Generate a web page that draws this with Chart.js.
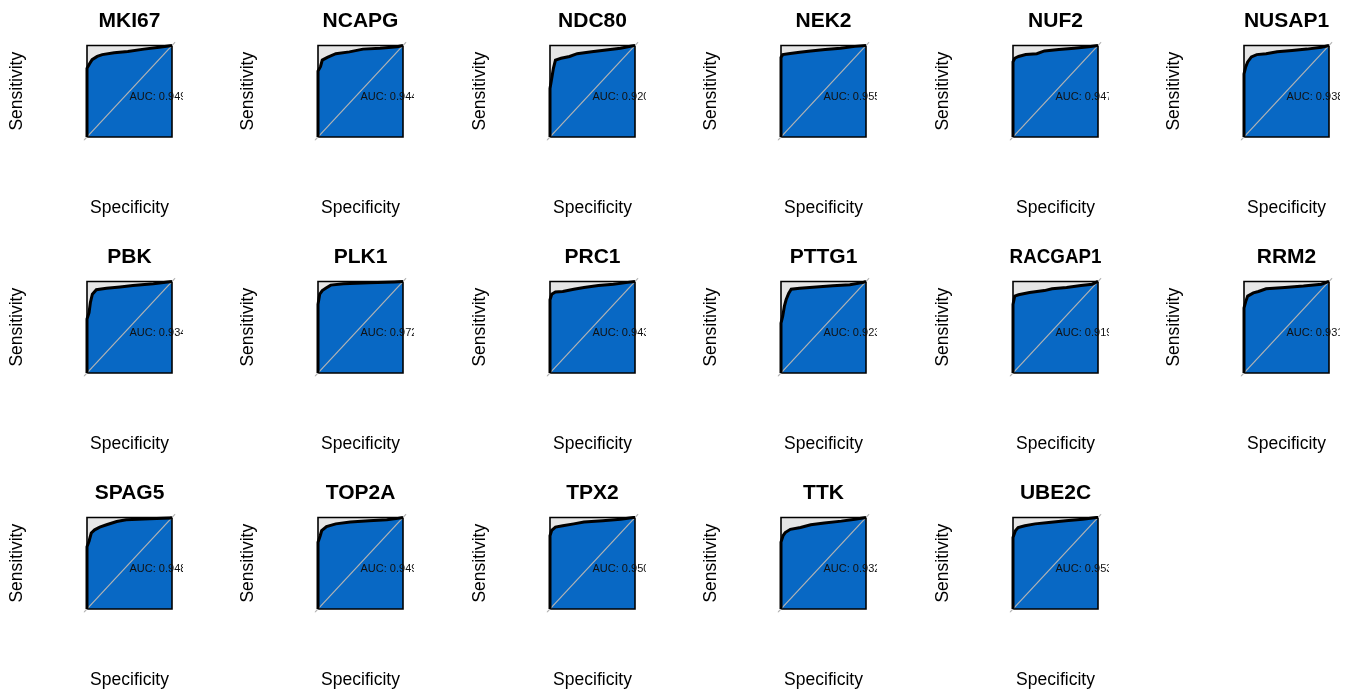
<!DOCTYPE html>
<html>
<head>
<meta charset="utf-8">
<script src="https://cdn.jsdelivr.net/npm/chart.js@4.4.1/dist/chart.umd.min.js"></script>
<style>
  html, body { margin: 0; padding: 0; background: #fff; overflow: hidden; }
  #grid { position: relative; width: 1353px; height: 696px; }
  .panel { position: absolute; width: 200px; height: 236px; }
</style>
</head>
<body>
<div id="grid"></div>
<script>
// genes, in panel order (6 per row)
var genes = ['MKI67', 'NCAPG', 'NDC80', 'NEK2', 'NUF2', 'NUSAP1',
             'PBK', 'PLK1', 'PRC1', 'PTTG1', 'RACGAP1', 'RRM2',
             'SPAG5', 'TOP2A', 'TPX2', 'TTK', 'UBE2C'];
var aucValues = [0.949, 0.944, 0.920, 0.955, 0.947, 0.938,
                 0.934, 0.972, 0.943, 0.923, 0.919, 0.931,
                 0.948, 0.949, 0.950, 0.932, 0.953];

// ROC curves: specificity / sensitivity pairs
var MKI67_spec   = [1, 1, 0.97, 0.94, 0.88, 0.82, 0.68, 0.52, 0.33, 0.15, 0];
var MKI67_sens   = [0, 0.75, 0.80, 0.845, 0.88, 0.90, 0.92, 0.935, 0.96, 0.98, 1];
var NCAPG_spec   = [1, 1, 0.97, 0.95, 0.89, 0.79, 0.63, 0.47, 0.27, 0.07, 0];
var NCAPG_sens   = [0, 0.72, 0.77, 0.84, 0.87, 0.91, 0.93, 0.96, 0.97, 0.985, 1];
var NDC80_spec   = [1, 1, 0.98, 0.96, 0.936, 0.87, 0.77, 0.68, 0.51, 0.34, 0.17, 0.04, 0];
var NDC80_sens   = [0, 0.53, 0.64, 0.75, 0.84, 0.86, 0.88, 0.91, 0.93, 0.95, 0.97, 0.995, 1];
var NEK2_spec    = [1, 1, 0.98, 0.913, 0.78, 0.65, 0.48, 0.30, 0.13, 0];
var NEK2_sens    = [0, 0.87, 0.90, 0.91, 0.925, 0.94, 0.955, 0.97, 0.99, 1];
var NUF2_spec    = [1, 1, 0.98, 0.935, 0.85, 0.72, 0.63, 0.46, 0.28, 0.11, 0];
var NUF2_sens    = [0, 0.82, 0.86, 0.88, 0.90, 0.91, 0.94, 0.955, 0.97, 0.985, 1];
var NUSAP1_spec  = [1, 1, 0.98, 0.957, 0.913, 0.85, 0.74, 0.61, 0.435, 0.26, 0.09, 0];
var NUSAP1_sens  = [0, 0.69, 0.765, 0.82, 0.875, 0.90, 0.91, 0.93, 0.945, 0.96, 0.98, 1];
var PBK_spec     = [1, 1, 0.976, 0.96, 0.937, 0.89, 0.77, 0.61, 0.46, 0.22, 0];
var PBK_sens     = [0, 0.59, 0.66, 0.77, 0.86, 0.91, 0.925, 0.94, 0.955, 0.975, 1];
var PLK1_spec    = [1, 1, 0.98, 0.95, 0.90, 0.85, 0.70, 0.40, 0.10, 0];
var PLK1_sens    = [0, 0.75, 0.86, 0.90, 0.93, 0.96, 0.975, 0.985, 0.995, 1];
var PRC1_spec    = [1, 1, 0.98, 0.936, 0.85, 0.72, 0.60, 0.43, 0.255, 0.085, 0];
var PRC1_sens    = [0, 0.80, 0.86, 0.885, 0.89, 0.915, 0.935, 0.955, 0.97, 0.99, 1];
var PTTG1_spec   = [1, 1, 0.98, 0.96, 0.94, 0.91, 0.88, 0.78, 0.585, 0.39, 0.19, 0.03, 0];
var PTTG1_sens   = [0, 0.545, 0.62, 0.73, 0.80, 0.87, 0.915, 0.927, 0.94, 0.953, 0.964, 0.99, 1];
var RACGAP1_spec = [1, 1, 0.98, 0.935, 0.805, 0.63, 0.54, 0.37, 0.20, 0.07, 0];
var RACGAP1_sens = [0, 0.75, 0.84, 0.855, 0.88, 0.90, 0.92, 0.935, 0.955, 0.97, 1];
var RRM2_spec    = [1, 1, 0.98, 0.957, 0.89, 0.83, 0.74, 0.52, 0.30, 0.09, 0];
var RRM2_sens    = [0, 0.71, 0.78, 0.84, 0.875, 0.89, 0.92, 0.935, 0.95, 0.97, 1];
var SPAG5_spec   = [1, 1, 0.976, 0.95, 0.91, 0.85, 0.77, 0.65, 0.54, 0.26, 0.02, 0];
var SPAG5_sens   = [0, 0.68, 0.74, 0.83, 0.865, 0.895, 0.92, 0.956, 0.975, 0.985, 0.993, 1];
var TOP2A_spec   = [1, 1, 0.974, 0.957, 0.90, 0.79, 0.62, 0.40, 0.19, 0.06, 0];
var TOP2A_sens   = [0, 0.73, 0.80, 0.855, 0.90, 0.93, 0.95, 0.965, 0.975, 0.99, 1];
var TPX2_spec    = [1, 1, 0.98, 0.936, 0.85, 0.72, 0.60, 0.38, 0.17, 0.02, 0];
var TPX2_sens    = [0, 0.80, 0.86, 0.895, 0.91, 0.93, 0.95, 0.965, 0.98, 1, 1];
var TTK_spec     = [1, 1, 0.976, 0.95, 0.89, 0.77, 0.65, 0.49, 0.29, 0.13, 0];
var TTK_sens     = [0, 0.73, 0.80, 0.835, 0.87, 0.89, 0.92, 0.94, 0.96, 0.98, 1];
var UBE2C_spec   = [1, 1, 0.972, 0.94, 0.86, 0.74, 0.58, 0.38, 0.18, 0.02, 0];
var UBE2C_sens   = [0, 0.78, 0.855, 0.89, 0.91, 0.93, 0.945, 0.965, 0.98, 1, 1];

var curves = [
    [MKI67_spec, MKI67_sens], [NCAPG_spec, NCAPG_sens], [NDC80_spec, NDC80_sens],
    [NEK2_spec, NEK2_sens], [NUF2_spec, NUF2_sens], [NUSAP1_spec, NUSAP1_sens],
    [PBK_spec, PBK_sens], [PLK1_spec, PLK1_sens], [PRC1_spec, PRC1_sens],
    [PTTG1_spec, PTTG1_sens], [RACGAP1_spec, RACGAP1_sens], [RRM2_spec, RRM2_sens],
    [SPAG5_spec, SPAG5_sens], [TOP2A_spec, TOP2A_sens], [TPX2_spec, TPX2_sens],
    [TTK_spec, TTK_sens], [UBE2C_spec, UBE2C_sens]
];

var FONT = '"Liberation Sans", Arial, Helvetica, sans-serif';
var COL_STEP = 231.4, ROW_STEP = 236;

Chart.defaults.font.family = FONT;
Chart.defaults.color = '#000';

// "AUC: x.xxx" text, clipped a little past the right edge of the box
var aucLabel = {
    id: 'aucLabel',
    afterDatasetsDraw: function (chart, args, opts) {
        var ctx = chart.ctx, x = chart.scales.x, y = chart.scales.y, area = chart.chartArea;
        var px = x.getPixelForValue(0.5), py = y.getPixelForValue(0.5);
        ctx.save();
        ctx.beginPath();
        ctx.rect(area.left, area.top, x.getPixelForValue(0) + 11 - area.left, area.bottom - area.top);
        ctx.clip();
        ctx.font = '11px ' + FONT;
        ctx.fillStyle = '#111';
        ctx.textBaseline = 'middle';
        ctx.fillText(opts.text, px, py + 5.5);
        ctx.restore();
    }
};

function pts(xs, ys) {
    var out = [];
    for (var i = 0; i < xs.length; i++) out.push({ x: xs[i], y: ys[i] });
    return out;
}

function makePanel(i) {
    var col = i % 6, row = Math.floor(i / 6);
    var div = document.createElement('div');
    div.className = 'panel';
    div.style.left = Math.round(col * COL_STEP) + 'px';
    div.style.top = (row * ROW_STEP) + 'px';
    var canvas = document.createElement('canvas');
    canvas.width = 200;
    canvas.height = 236;
    div.appendChild(canvas);
    document.getElementById('grid').appendChild(div);

    var roc = pts(curves[i][0], curves[i][1]);

    new Chart(canvas, {
        type: 'scatter',
        data: {
            datasets: [
                {   // grey max-AUC square
                    data: [{ x: 1, y: 1 }, { x: 0, y: 1 }],
                    showLine: true, fill: 'origin', backgroundColor: '#e6e6e6',
                    borderWidth: 0, pointRadius: 0, order: 5
                },
                {   // blue AUC polygon
                    data: roc,
                    showLine: true, fill: 'origin', backgroundColor: '#0868c4',
                    borderWidth: 0, pointRadius: 0, order: 4
                },
                {   // box outline
                    data: [{ x: 1, y: 0 }, { x: 1, y: 1 }, { x: 0, y: 1 }, { x: 0, y: 0 }, { x: 1, y: 0 }],
                    showLine: true, fill: false, borderColor: '#000', borderWidth: 1.6,
                    pointRadius: 0, order: 3
                },
                {   // chance diagonal
                    data: [{ x: 1.04, y: -0.04 }, { x: -0.04, y: 1.04 }],
                    showLine: true, fill: false, borderColor: '#b4b4b4', borderWidth: 1.2,
                    pointRadius: 0, order: 2
                },
                {   // ROC curve
                    data: roc,
                    showLine: true, fill: false, borderColor: '#000', borderWidth: 3,
                    pointRadius: 0, order: 1
                }
            ]
        },
        options: {
            responsive: false,
            animation: false,
            events: [],
            layout: { padding: { left: 0, top: 0, right: 24.6, bottom: 0 } },
            scales: {
                x: {
                    type: 'linear', reverse: true, min: -0.04, max: 1.04,
                    ticks: { display: false },
                    grid: { display: false, drawTicks: false },
                    border: { display: false },
                    title: {
                        display: true, text: 'Specificity', color: '#000',
                        font: { size: 17.5 }, padding: { top: 56.9, bottom: 17.5 }
                    }
                },
                y: {
                    type: 'linear', min: -0.04, max: 1.04,
                    ticks: { display: false },
                    grid: { display: false, drawTicks: false },
                    border: { display: false },
                    title: {
                        display: true, text: 'Sensitivity', color: '#000',
                        font: { size: 17.5 }, padding: { top: 7, bottom: 55.6 }
                    }
                }
            },
            plugins: {
                legend: { display: false },
                tooltip: { enabled: false },
                title: {
                    display: true, text: genes[i], fullSize: false, color: '#000',
                    font: { size: 21, weight: 'bold' }, padding: { top: 8.4, bottom: 8.2 }
                },
                aucLabel: { text: 'AUC: ' + aucValues[i].toFixed(3) }
            }
        },
        plugins: [aucLabel]
    });
}

for (var i = 0; i < genes.length; i++) makePanel(i);
</script>
</body>
</html>
